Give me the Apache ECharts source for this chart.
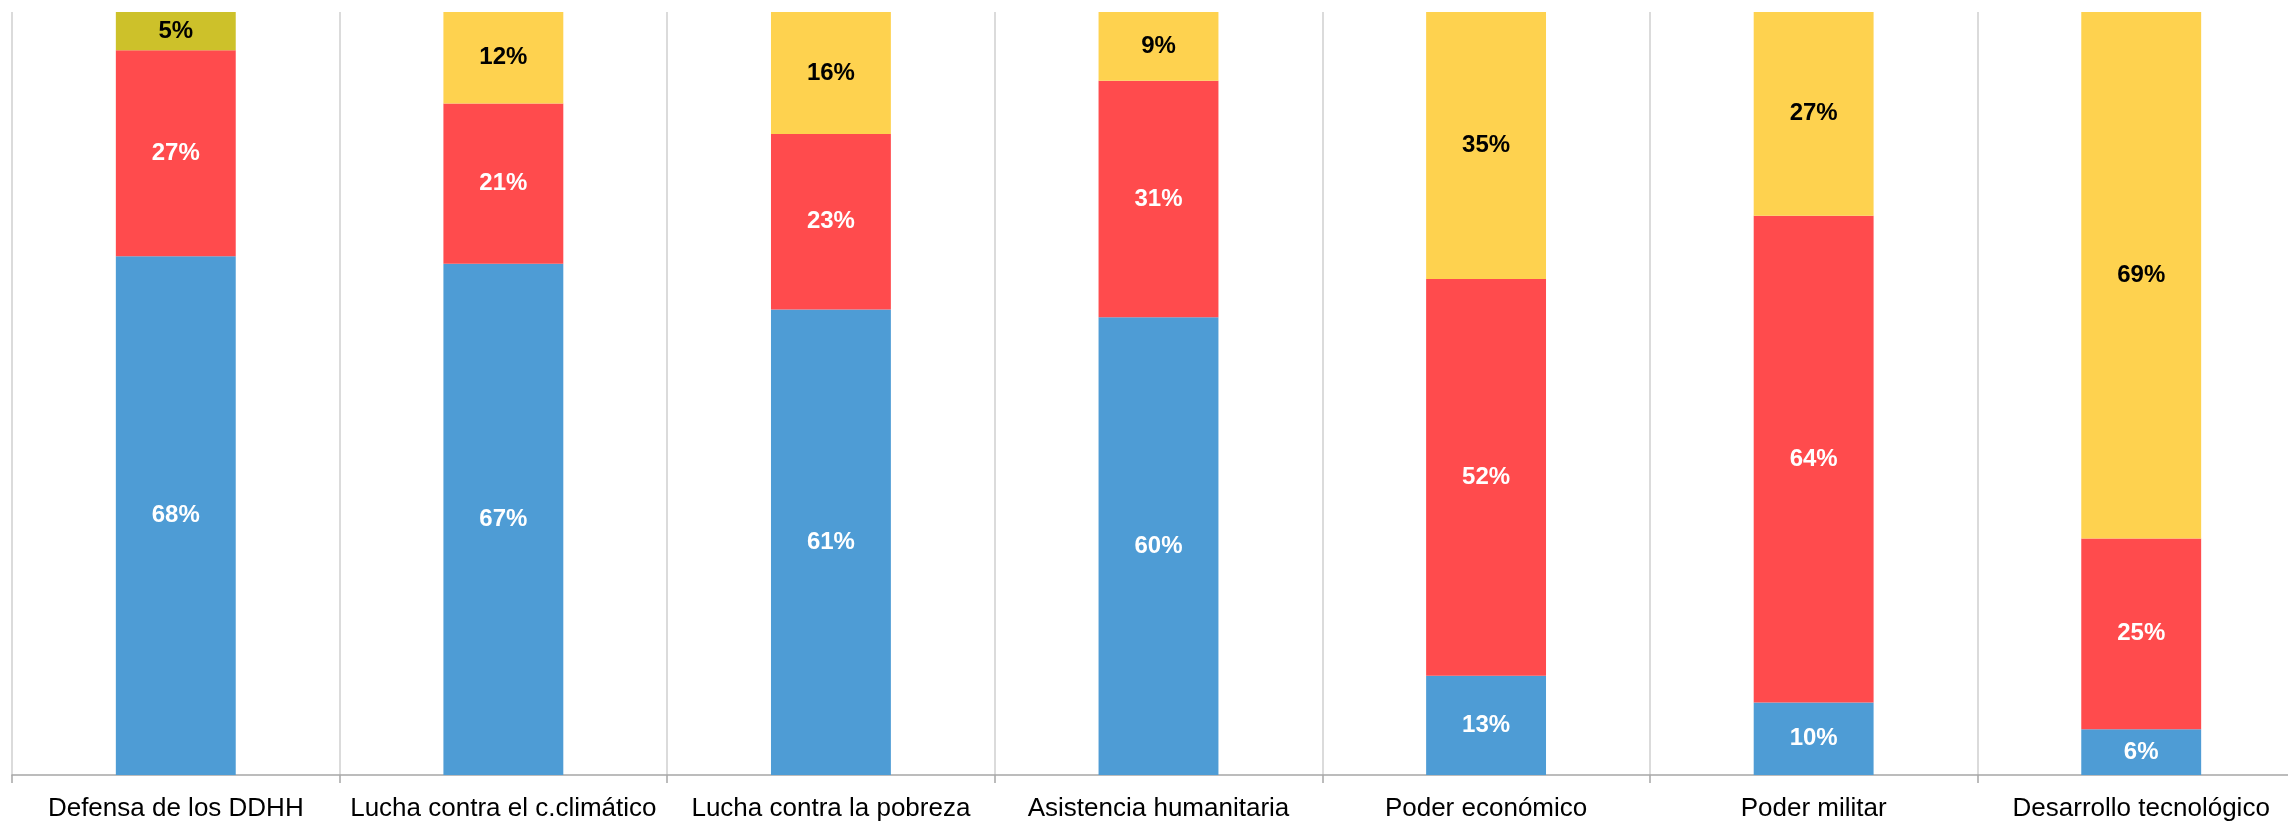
<!DOCTYPE html>
<html>
<head>
<meta charset="utf-8">
<script src="https://cdn.jsdelivr.net/npm/echarts@6/dist/echarts.min.js"></script>
<style>
html,body{margin:0;padding:0;background:#fff;}
#chart{width:2288px;height:823px;}
</style>
</head>
<body>
<div id="chart"></div>
<script>
const categories = ["Defensa de los DDHH", "Lucha contra el c.climático", "Lucha contra la pobreza", "Asistencia humanitaria", "Poder económico", "Poder militar", "Desarrollo tecnológico"];
const serieAzul = [68, 67, 61, 60, 13, 9.5, 6];
const serieRoja = [27, 21, 23, 31, 52, 63.8, 25];
const serieAmarilla = [5, 12, 16, 9, 35, 26.7, 69];

const colorAzul = "#4E9CD5";
const colorRojo = "#FF4B4D";
const colorAmarillo = "#FED24F";
const colorOliva = "#CDC12A";

const labelBase = {
  show: true,
  position: "inside",
  fontFamily: "'Liberation Sans', Arial, sans-serif",
  fontWeight: "bold",
  fontSize: 24,
  formatter: p => Math.round(p.value) + "%"
};

const chart = echarts.init(document.getElementById("chart"), null, {renderer: "canvas"});
chart.setOption({
  animation: false,
  backgroundColor: "#ffffff",
  grid: {left: 12, top: 12, width: 2293, bottom: 48, containLabel: false, outerBoundsMode: "none"},
  xAxis: {
    type: "category",
    data: categories,
    boundaryGap: true,
    axisLine: {show: true, lineStyle: {color: "#a6a6a6", width: 1.5}},
    axisTick: {show: true, alignWithLabel: false, length: 8, lineStyle: {color: "#a6a6a6", width: 1.5}},
    axisLabel: {
      interval: 0,
      margin: 21,
      fontFamily: "'Liberation Sans', Arial, sans-serif",
      fontSize: 26,
      color: "#000"
    },
    splitLine: {show: true, interval: 0, lineStyle: {color: "#cfcfcf", width: 1.5}}
  },
  yAxis: {
    type: "value",
    min: 0,
    max: 100,
    show: false,
    splitLine: {show: false}
  },
  series: [
    {
      name: "Azul",
      type: "bar",
      stack: "total",
      barWidth: "36.6%",
      data: serieAzul,
      itemStyle: {color: colorAzul},
      label: Object.assign({}, labelBase, {color: "#fff"})
    },
    {
      name: "Rojo",
      type: "bar",
      stack: "total",
      data: serieRoja,
      itemStyle: {color: colorRojo},
      label: Object.assign({}, labelBase, {color: "#fff"})
    },
    {
      name: "Amarillo",
      type: "bar",
      stack: "total",
      data: serieAmarilla.map((v, i) => i === 0 ? {value: v, itemStyle: {color: colorOliva}} : v),
      itemStyle: {color: colorAmarillo},
      label: Object.assign({}, labelBase, {color: "#000"})
    }
  ]
});
</script>
</body>
</html>
